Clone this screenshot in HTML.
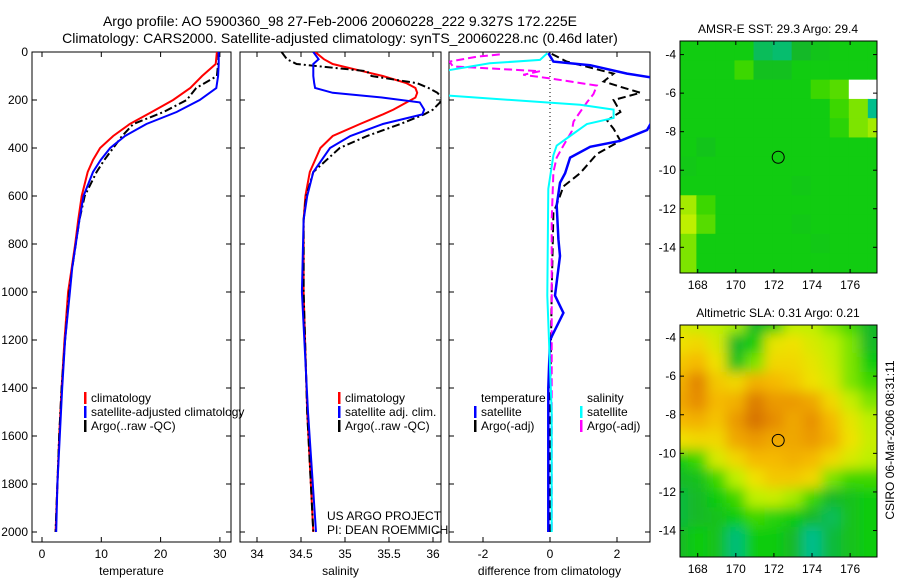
<!DOCTYPE html>
<html><head><meta charset="utf-8"><style>
body{margin:0;background:#fff}
svg{display:block;font-family:"Liberation Sans",sans-serif}
</style></head><body>
<svg id="c" width="900" height="580" viewBox="0 0 900 580">
<defs>
<clipPath id="cp1"><rect x="32" y="52" width="199" height="490"/></clipPath>
<clipPath id="cp2"><rect x="240" y="52" width="201" height="490"/></clipPath>
<clipPath id="cp3"><rect x="449" y="52" width="201" height="490"/></clipPath>
<clipPath id="cpm2"><rect x="680" y="325" width="197" height="232"/></clipPath>
<filter id="bl" x="-20%" y="-20%" width="140%" height="140%"><feGaussianBlur stdDeviation="6"/></filter>
</defs>
<text x="340" y="26" font-size="14" text-anchor="middle">Argo profile: AO 5900360_98 27-Feb-2006 20060228_222 9.327S 172.225E</text>
<text x="340" y="43" font-size="14" text-anchor="middle">Climatology: CARS2000. Satellite-adjusted climatology: synTS_20060228.nc (0.46d later)</text>
<g id="g"></g>
</svg>
<script>
// ---- profile data (depth in dbar) ----
const tDepth=[0,50,100,150,200,250,300,350,400,450,500,600,700,800,900,1000,1200,1400,1600,1800,2000];
const tClim=[29.5,29.3,27,25,22.1,18.5,14.8,12,9.8,8.6,7.7,6.7,6.1,5.6,5,4.4,3.8,3.3,2.9,2.6,2.3];
const tSat=[29.8,29.8,29.7,29.4,26.6,22.7,17.6,14,11.5,9.9,8.6,7,6.3,5.7,5.1,4.7,3.9,3.4,3,2.6,2.4];
const tArgo=[29.8,29.7,29.5,26,24.4,20.5,15.4,13.5,12,10.5,9.2,7.2,6.3,5.7,5.1,4.6,3.9,3.3,2.9,2.6,2.3];
const sDepth=[0,30,50,80,100,130,150,170,190,210,240,260,300,350,400,500,600,700,1000,1500,2000];
const sClim=[34.66,34.76,34.86,35.2,35.43,35.7,35.8,35.82,35.8,35.7,35.55,35.43,35.17,34.86,34.72,34.6,34.55,34.53,34.53,34.57,34.64];
const sSat=[34.64,34.7,34.64,34.64,34.64,34.65,34.66,34.86,35.43,35.85,35.9,35.88,35.43,35.06,34.83,34.64,34.57,34.53,34.51,34.58,34.67];
const sArgo=[34.28,34.34,34.45,35.25,35.3,35.82,35.95,36.05,36.1,36.08,36,35.9,35.63,35.25,34.94,34.64,34.56,34.53,34.53,34.57,34.64];
const dtDepth=[5,40,55,90,110,200,325,370,395,440,505,545,640,780,850,1015,1087,1200,1400,2000];
const dtSat=[-0.05,0.1,1.2,2.3,3.2,3.4,2.9,2.1,1.2,0.6,0.45,0.3,0.2,0.25,0.3,0.15,0.4,0,-0.05,-0.05];
const daDepth=[8,40,90,123,145,170,200,250,285,320,370,425,505,560,600,670,1000,1500,2000];
const daTemp=[0.05,0.5,1.9,1.6,2.1,2.7,1.9,2.1,1.7,1.9,2.1,1.4,0.9,0.4,0.3,0.1,0.05,0,0];
const dsDepth=[5,33,47,80,180,220,240,275,300,350,390,430,570,1015,1500,2000];
const dsSat=[-0.08,-0.3,-1.8,-3.2,-3.2,0.9,1.9,1.9,1.1,0.6,0.2,0.1,-0.05,-0.08,0.05,0.05];
const dsaDepth=[10,20,40,60,80,95,110,140,175,210,250,290,330,390,440,500,700,1200,2000];
const dsArgo=[-1.5,-2.2,-3,-2.9,-0.3,-0.8,0,1.4,1.3,1.1,0.9,0.7,0.65,0.4,0.2,0.1,0.05,0.05,0.05];
// ---- map grids (rows from -3.3 southward, cols lon 167..177) ----
const sstGrid=[
[.45,.45,.45,.45,.35,.33,.4,.43,.45,.45,.45],
[.45,.45,.45,.5,.42,.42,.45,.45,.45,.45,.45],
[.45,.45,.45,.45,.45,.45,.45,.5,.52,null,null],
[.45,.45,.45,.45,.45,.45,.45,.45,.5,.55,.3],
[.45,.45,.45,.45,.45,.45,.45,.45,.48,.55,.58],
[.45,.43,.45,.45,.45,.45,.45,.45,.45,.45,.45],
[.44,.45,.45,.45,.45,.45,.45,.45,.45,.45,.45],
[.45,.45,.45,.45,.45,.45,.44,.45,.45,.45,.45],
[.58,.5,.45,.45,.45,.45,.45,.45,.45,.45,.45],
[.6,.52,.45,.45,.45,.45,.44,.45,.45,.45,.45],
[.55,.45,.45,.45,.45,.45,.45,.44,.45,.45,.45],
[.55,.45,.45,.45,.45,.45,.45,.45,.45,.45,.45]];
const slaGrid=[
[.65,.62,.6,.58,.4,.45,.6,.6,.55,.5,.4],
[.7,.72,.65,.4,.45,.68,.7,.65,.6,.55,.4],
[.75,.78,.7,.42,.55,.72,.72,.68,.62,.55,.45],
[.8,.9,.75,.72,.8,.78,.75,.7,.65,.55,.5],
[.82,.88,.78,.8,.92,.85,.85,.82,.72,.62,.55],
[.78,.8,.76,.85,.95,.88,.82,.87,.78,.68,.6],
[.7,.72,.72,.82,.85,.82,.82,.85,.8,.7,.62],
[.45,.5,.65,.72,.78,.78,.8,.78,.72,.65,.6],
[.4,.42,.5,.6,.7,.75,.75,.72,.55,.5,.5],
[.38,.4,.45,.5,.6,.62,.58,.5,.4,.42,.45],
[.38,.4,.42,.45,.5,.48,.45,.4,.35,.42,.45],
[.4,.45,.42,.32,.45,.45,.4,.3,.38,.42,.45]];
const tTicks=[0,10,20,30], sTicks=[34,34.5,35,35.5,36], dTicks=[-2,0,2];
const depthTicks=[0,200,400,600,800,1000,1200,1400,1600,1800,2000];
const lonTicks=[168,170,172,174,176], latTicks=[-4,-6,-8,-10,-12,-14];

const NS='http://www.w3.org/2000/svg';
const G=document.getElementById('g');
function mk(tag,at,parent){const e=document.createElementNS(NS,tag);for(const k in at)e.setAttribute(k,at[k]);(parent||G).appendChild(e);return e;}
const yD=d=>52+d*0.24;
const xT=t=>42+t*5.93, xS=s=>257+(s-34)*88, xDf=v=>550+v*33.5;
const lonX=l=>680+(l-167.07)*19.05;
const latY1=a=>41.3+(-3.31-a)*19.27, latY2=a=>325+(-3.35-a)*19.3;

function panel(x0,w,ticks,xf,name,label){
  const r=mk('rect',{x:x0,y:52,width:w,height:490,fill:'none',stroke:'#000','stroke-width':1});
  
  
  ticks.forEach(v=>{const x=xf(v);
    mk('line',{x1:x,y1:542,x2:x,y2:537,stroke:'#000'});mk('line',{x1:x,y1:52,x2:x,y2:57,stroke:'#000'});
    const t=mk('text',{x:x,y:558,'font-size':12,'text-anchor':'middle'});t.textContent=v;
    
    });
  depthTicks.forEach(d=>{mk('line',{x1:x0,y1:yD(d),x2:x0+5,y2:yD(d),stroke:'#000'});mk('line',{x1:x0+w,y1:yD(d),x2:x0+w-5,y2:yD(d),stroke:'#000'});});
  const l=mk('text',{x:x0+w/2,y:575,'font-size':12,'text-anchor':'middle'});l.textContent=label;
  
  
}
panel(32,199,tTicks,xT,'temperature-panel','temperature');
panel(240,201,sTicks,xS,'salinity-panel','salinity');
panel(449,201,dTicks,xDf,'difference-panel','difference from climatology');
depthTicks.forEach(d=>{const t=mk('text',{x:28,y:yD(d)+4,'font-size':12,'text-anchor':'end'});t.textContent=d;
  
  });
mk('line',{x1:550,y1:52,x2:550,y2:170,stroke:'#000','stroke-dasharray':'1,3'});

function series(ds,vs,xf,color,dash,clip,name,w){
  const pts=ds.map((d,i)=>xf(vs[i]).toFixed(1)+','+yD(d).toFixed(1)).join(' ');
  const p=mk('polyline',{points:pts,fill:'none',stroke:color,'stroke-width':w||2,'clip-path':'url(#'+clip+')'});
  if(dash)p.setAttribute('stroke-dasharray',dash);
  
  
}
series(tDepth,tClim,xT,'#f00',null,'cp1','temp-climatology-line');
series(tDepth,tArgo,xT,'#000','8,3,2,3','cp1','temp-argo-line');
series(tDepth,tSat,xT,'#00f',null,'cp1','temp-satellite-line');
series(sDepth,sClim,xS,'#f00',null,'cp2','sal-climatology-line');
series(sDepth,sArgo,xS,'#000','8,3,2,3','cp2','sal-argo-line');
series(sDepth,sSat,xS,'#00f',null,'cp2','sal-satellite-line');
series(daDepth,daTemp,xDf,'#000','8,4','cp3','diff-temp-argo-line');
series(dsaDepth,dsArgo,xDf,'#f0f','8,4','cp3','diff-sal-argo-line');
series(dtDepth,dtSat,xDf,'#00f',null,'cp3','diff-temp-satellite-line',2.5);
series(dsDepth,dsSat,xDf,'#0ff',null,'cp3','diff-sal-satellite-line');

function leg(x,y,color,txt,name){
  if(color){mk('rect',{x:x,y:y-10,width:2.5,height:12,fill:color});}
  const t=mk('text',{x:x+7,y:y,'font-size':12});t.textContent=txt;
  
  
}
leg(84,402,'#f00','climatology','legend-entry-climatology');
leg(84,416,'#00f','satellite-adjusted climatology','legend-entry-sat-adjusted');
leg(84,430,'#000','Argo(..raw -QC)','legend-entry-argo');
leg(338,402,'#f00','climatology','legend-entry-sal-climatology');
leg(338,416,'#00f','satellite adj. clim.','legend-entry-sal-sat');
leg(338,430,'#000','Argo(..raw -QC)','legend-entry-sal-argo');
leg(474,402,null,'temperature','legend-heading-temperature');
leg(474,416,'#00f','satellite','legend-entry-diff-temp-sat');
leg(474,430,'#000','Argo(-adj)','legend-entry-diff-temp-argo');
leg(580,402,null,'salinity','legend-heading-salinity');
leg(580,416,'#0ff','satellite','legend-entry-diff-sal-sat');
leg(580,430,'#f0f','Argo(-adj)','legend-entry-diff-sal-argo');
const cred=mk('text',{x:327,y:520,'font-size':12});cred.textContent='US ARGO PROJECT';


const cred2=mk('text',{x:327,y:534,'font-size':12});cred2.textContent='PI: DEAN ROEMMICH';



// ---- maps ----
const stops=[[.3,[0,190,140]],[.4,[20,185,40]],[.45,[17,204,17]],[.5,[60,215,0]],[.6,[190,240,0]],[.7,[240,225,0]],[.78,[245,185,0]],[.88,[230,140,0]],[.95,[215,115,0]]];
function cmap(v){if(v<=stops[0][0])return 'rgb('+stops[0][1]+')';
  for(let i=1;i<stops.length;i++){if(v<=stops[i][0]){const a=stops[i-1],b=stops[i],f=(v-a[0])/(b[0]-a[0]);
    return 'rgb('+a[1].map((c,k)=>Math.round(c+(b[1][k]-c)*f)).join(',')+')';}}
  return 'rgb('+stops[stops.length-1][1]+')';}
function map(grid,latY,top,bot,name,title,blur){
  const grp=mk('g',blur?{'clip-path':'url(#cpm2)'}:{});
  const inner=mk('g',blur?{filter:'url(#bl)'}:{},grp);
  const nr=grid.length,nc=grid[0].length;
  grid.forEach((row,r)=>row.forEach((v,c)=>{
    let x0,x1,y0,y1;
    if(blur){
      x0=lonX(167+c-0.5-(c===0?2:0)); x1=lonX(168+c+0.5+(c===nc-1?2:0));
      y0=latY(-3.3-r+0.5+(r===0?2:0)); y1=latY(-4.3-r-0.5-(r===nr-1?2:0));
    } else {
      x0=Math.max(680,lonX(167+c-0.07)); x1=Math.min(877,lonX(168+c-0.07));
      y0=Math.max(top,latY(-3.3-r)); y1=Math.min(bot,latY(-4.3-r));
    }
    const cell=mk('rect',{x:x0,y:y0,width:x1-x0+0.5,height:y1-y0+0.5,fill:v===null?'#fff':cmap(v)},inner);
    
    
  }));
  const f=mk('rect',{x:680,y:top,width:197,height:bot-top,fill:'none',stroke:'#000'});
  
  
  lonTicks.forEach(l=>{const x=lonX(l);mk('line',{x1:x,y1:top,x2:x,y2:top+4,stroke:'#000'});mk('line',{x1:x,y1:bot,x2:x,y2:bot-4,stroke:'#000'});
    const t=mk('text',{x:x,y:bot+16,'font-size':12,'text-anchor':'middle'});t.textContent=l;
    
    });
  latTicks.forEach(a=>{const y=latY(a);mk('line',{x1:680,y1:y,x2:684,y2:y,stroke:'#000'});mk('line',{x1:877,y1:y,x2:873,y2:y,stroke:'#000'});
    const t=mk('text',{x:676,y:y+4,'font-size':12,'text-anchor':'end'});t.textContent=a;
    
    });
  const c=mk('circle',{cx:lonX(172.225),cy:latY(-9.327),r:6,fill:'none',stroke:'#000'});
  
  
  const t=mk('text',{x:778,y:top-8,'font-size':12,'text-anchor':'middle'});t.textContent=title;
  
  
}
map(sstGrid,latY1,41,273,'sst-map','AMSR-E SST: 29.3 Argo: 29.4',false);
map(slaGrid,latY2,325,557,'sla-map','Altimetric SLA: 0.31 Argo: 0.21',true);
const st=mk('text',{x:894,y:440,'font-size':12,'text-anchor':'middle',transform:'rotate(-90 894 440)'});st.textContent='CSIRO 06-Mar-2006 08:31:11';


</script>
</body></html>
